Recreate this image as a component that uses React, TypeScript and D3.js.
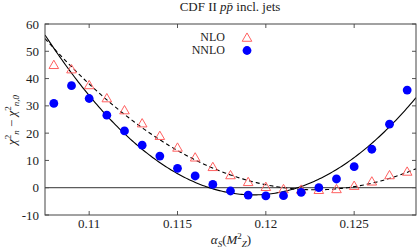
import React, { useEffect, useRef } from "react"
import * as d3 from "d3"

const alphaS = [0.108, 0.109, 0.11, 0.111, 0.112, 0.113, 0.114, 0.115, 0.116, 0.117, 0.118, 0.119, 0.12, 0.121, 0.122, 0.123, 0.124, 0.125, 0.126, 0.127, 0.128]
const nloChi = [44.7, 43.1, 37.3, 32.5, 28.1, 23.3, 18.7, 14.4, 10.8, 7.3, 4.3, 1.8, 0.0, -0.8, -1.0, -1.1, -0.8, 0.4, 2.0, 4.3, 5.6]
const nnloChi = [30.9, 37.4, 32.7, 26.6, 20.8, 15.6, 11.6, 7.1, 4.3, 1.2, -1.2, -2.7, -3.0, -2.9, -1.7, 0.0, 3.2, 7.7, 14.1, 23.3, 35.8]

// parabola fits: a * (x - x0)^2 + c
const nloFit = { a: 236800, x0: 0.1228, c: -0.77 }
const nnloFit = { a: 421000, x0: 0.1193, c: -2.63 }

const xTicks = [0.11, 0.115, 0.12, 0.125]
const yTicks = [-10, 0, 10, 20, 30, 40, 50, 60]

const W = 417
const H = 251
const FONT = "'Liberation Serif', 'DejaVu Serif', serif"
const FS = 13

export default function App() {
	const ref = useRef<SVGGElement>(null)

	useEffect(() => {
		document.body.style.margin = "0"
		const svg = d3.select(ref.current)
		svg.selectAll("*").remove()

		const left = 45, right = 416, top = 24, bottom = 215
		const x = d3.scaleLinear().domain([0.1075, 0.1285]).range([left, right])
		const y = d3.scaleLinear().domain([-10, 60]).range([bottom, top])

		const defs = svg.append("defs")
		defs.append("clipPath").attr("id", "plotclip")
			.append("rect").attr("x", left).attr("y", top).attr("width", right - left).attr("height", bottom - top)

		// zero line
		svg.append("line")
			.attr("x1", left).attr("x2", right)
			.attr("y1", y(0)).attr("y2", y(0))
			.attr("stroke", "#333").attr("stroke-width", 1)

		// ticks (inward, mirrored)
		const tk = 4
		xTicks.forEach(t => {
			svg.append("line").attr("x1", x(t)).attr("x2", x(t)).attr("y1", bottom).attr("y2", bottom - tk).attr("stroke", "#555")
			svg.append("line").attr("x1", x(t)).attr("x2", x(t)).attr("y1", top).attr("y2", top + tk).attr("stroke", "#555")
			svg.append("text").attr("x", x(t)).attr("y", bottom + 13).attr("text-anchor", "middle")
				.attr("font-family", FONT).attr("font-size", FS).attr("fill", "#222").text(String(t))
		})
		yTicks.forEach(t => {
			svg.append("line").attr("x1", left).attr("x2", left + tk).attr("y1", y(t)).attr("y2", y(t)).attr("stroke", "#555")
			svg.append("line").attr("x1", right).attr("x2", right - tk).attr("y1", y(t)).attr("y2", y(t)).attr("stroke", "#555")
			svg.append("text").attr("x", left - 6).attr("y", y(t) + 4.5).attr("text-anchor", "end")
				.attr("font-family", FONT).attr("font-size", FS).attr("fill", "#222").text(String(t))
		})

		// fit curves
		const xs = d3.range(0, 201).map(i => 0.1075 + (0.1285 - 0.1075) * i / 200)
		const line = d3.line<number>().x(d => x(d))
		const g = svg.append("g").attr("clip-path", "url(#plotclip)")
		g.append("path")
			.attr("d", line.y(d => y(nloFit.a * (d - nloFit.x0) ** 2 + nloFit.c))(xs))
			.attr("fill", "none").attr("stroke", "#000").attr("stroke-width", 1.1).attr("stroke-dasharray", "4,3")
		g.append("path")
			.attr("d", line.y(d => y(nnloFit.a * (d - nnloFit.x0) ** 2 + nnloFit.c))(xs))
			.attr("fill", "none").attr("stroke", "#000").attr("stroke-width", 1.1)

		// markers
		const tri = d3.symbol().type(d3.symbolTriangle).size(40)
		g.selectAll("path.nlo").data(alphaS).enter().append("path")
			.attr("class", "nlo")
			.attr("d", tri)
			.attr("transform", (d, i) => `translate(${x(d)},${y(nloChi[i])})`)
			.attr("fill", "none").attr("stroke", "#ff6060").attr("stroke-width", 1)
		g.selectAll("circle.nnlo").data(alphaS).enter().append("circle")
			.attr("class", "nnlo")
			.attr("cx", d => x(d)).attr("cy", (d, i) => y(nnloChi[i])).attr("r", 4.4)
			.attr("fill", "#0000ff")

		// frame
		svg.append("rect").attr("x", left).attr("y", top).attr("width", right - left).attr("height", bottom - top)
			.attr("fill", "none").attr("stroke", "#444").attr("stroke-width", 1)

		// legend
		svg.append("text").attr("x", 225).attr("y", 40.5).attr("text-anchor", "end")
			.attr("font-family", FONT).attr("font-size", 12).attr("fill", "#222").text("NLO")
		svg.append("path").attr("d", tri).attr("transform", "translate(247,38.5)")
			.attr("fill", "none").attr("stroke", "#ff6060")
		svg.append("text").attr("x", 225).attr("y", 53.5).attr("text-anchor", "end")
			.attr("font-family", FONT).attr("font-size", 12).attr("fill", "#222").text("NNLO")
		svg.append("circle").attr("cx", 247).attr("cy", 50.5).attr("r", 4.4).attr("fill", "#0000ff")
	}, [])

	return (
		<svg width={W} height={H} style={{ display: "block" }} fontFamily={FONT}>
			<g ref={ref} />
			<text x={230} y={11} textAnchor="middle" fontSize={FS} fill="#222">
				CDF II <tspan fontStyle="italic">p</tspan><tspan fontStyle="italic">p̄</tspan> incl.  jets
			</text>
			<text transform="translate(16,120) rotate(-90)" textAnchor="middle" fontSize={FS} fill="#222">
				<tspan fontStyle="italic">χ</tspan><tspan fontSize={9} dy={-5}>2</tspan><tspan fontSize={9} fontStyle="italic" dy={8}>n</tspan>
				<tspan dy={-3}> − </tspan>
				<tspan fontStyle="italic">χ</tspan><tspan fontSize={9} dy={-5}>2</tspan><tspan fontSize={9} fontStyle="italic" dy={8}>n,0</tspan>
			</text>
			<text x={231} y={244} textAnchor="middle" fontSize={FS} fill="#222">
				<tspan fontStyle="italic">α</tspan><tspan fontSize={9} fontStyle="italic" dy={3}>S</tspan>
				<tspan dy={-3}>(</tspan><tspan fontStyle="italic">M</tspan><tspan fontSize={9} dy={-5}>2</tspan><tspan fontSize={9} fontStyle="italic" dy={8}>Z</tspan><tspan dy={-3}>)</tspan>
			</text>
		</svg>
	)
}
